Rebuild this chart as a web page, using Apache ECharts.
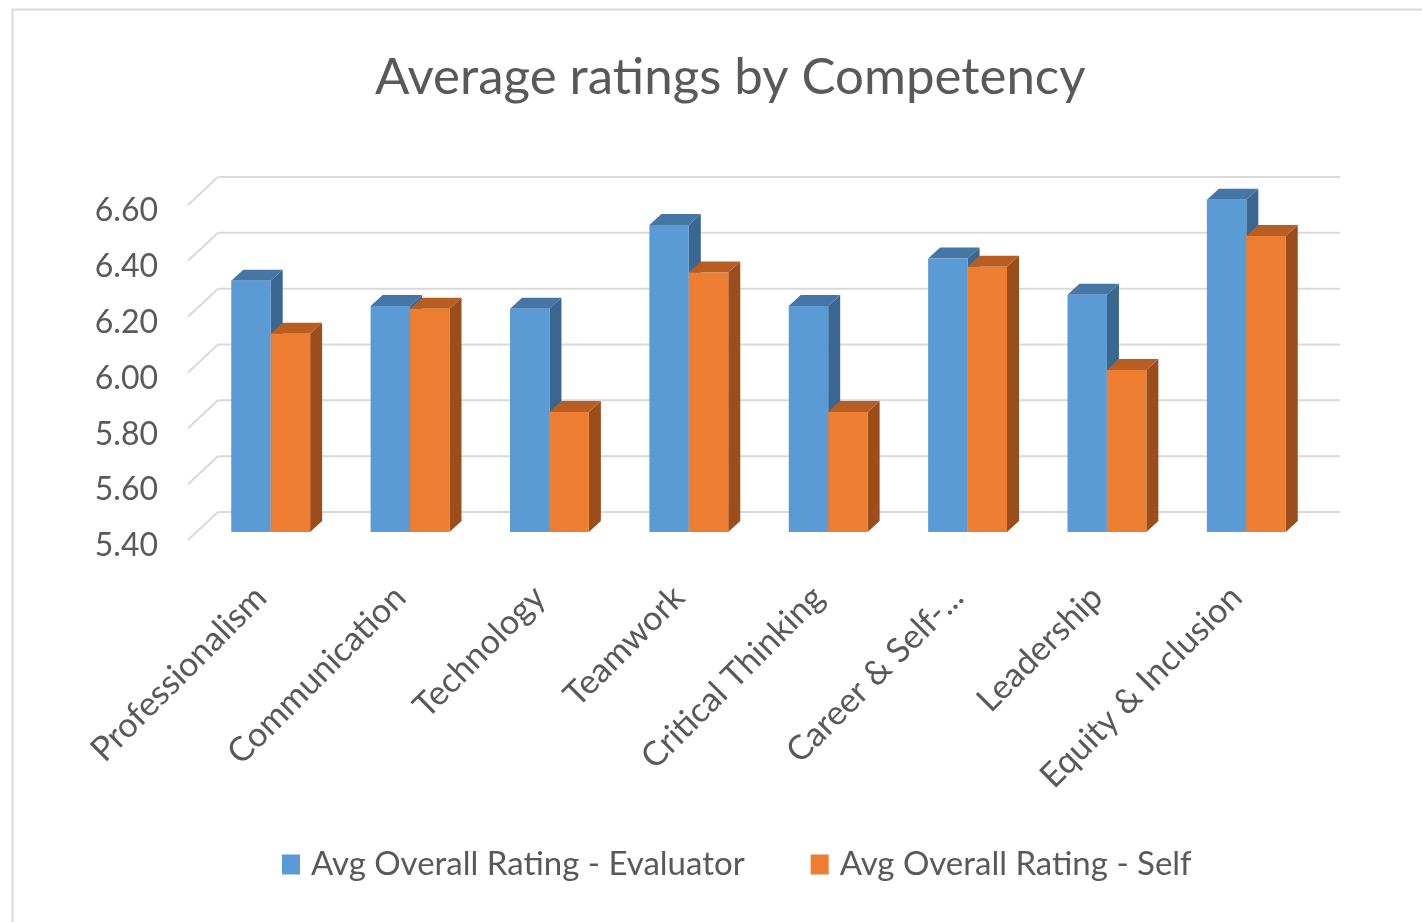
<!DOCTYPE html>
<html>
<head>
<meta charset="utf-8">
<script src="https://cdn.jsdelivr.net/npm/echarts@6/dist/echarts.min.js"></script>
<style>
html,body{margin:0;padding:0;background:#fff;}
#chart{width:1422px;height:922px;}
</style>
</head>
<body>
<div id="chart"></div>
<script>
const categories = ['Professionalism','Communication','Technology','Teamwork','Critical Thinking','Career & Self-...','Leadership','Equity & Inclusion'];
const evaluator = [6.30, 6.21, 6.20, 6.50, 6.21, 6.38, 6.25, 6.59];
const selfRating = [6.11, 6.20, 5.83, 6.33, 5.83, 6.35, 5.98, 6.46];
const yTicks = [5.4, 5.6, 5.8, 6.0, 6.2, 6.4, 6.6];
const seriesNames = ['Avg Overall Rating - Evaluator', 'Avg Overall Rating - Self'];

const FONT = 'Lato';
const blue = {front:'#5b9bd5', top:'#4676a6', side:'#3a6790'};
const orange = {front:'#ed7d31', top:'#b85e22', side:'#9b4e1c'};
const Y_MIN = 5.4;

function makeBar(sideIdx, colors) {
  return function (params, api) {
    const i = api.value(0), v = api.value(1);
    const top = api.coord([i, v]);
    const base = api.coord([i, Y_MIN]);
    const band = api.size([1, 0])[0];
    const w = band * 0.283;
    const x0 = sideIdx === 0 ? top[0] - w : top[0];
    const x1 = x0 + w;
    const yt = top[1], yb = base[1];
    const dx = 12, dy = -11;
    return {
      type: 'group',
      children: [
        {type:'polygon', shape:{points:[[x1,yt],[x1+dx,yt+dy],[x1+dx,yb+dy],[x1,yb]]}, style:{fill:colors.side}},
        {type:'polygon', shape:{points:[[x0,yt],[x1,yt],[x1+dx,yt+dy],[x0+dx,yt+dy]]}, style:{fill:colors.top}},
        {type:'rect', shape:{x:x0, y:yt, width:w, height:yb-yt}, style:{fill:colors.front}}
      ]
    };
  };
}

function gridRender(params, api) {
  const v = api.value(1);
  const p = api.coord([0, v]);
  const cs = params.coordSys;
  const y = p[1];
  const bl = cs.x + 17, br = cs.x + cs.width + 24, by = y - 20;
  return {
    type: 'group',
    children: [
      {type:'line', shape:{x1:bl, y1:by, x2:br, y2:by}, style:{stroke:'#d9d9d9', lineWidth:2}},
      {type:'line', shape:{x1:bl, y1:by, x2:bl-30, y2:by+28}, style:{stroke:'#d9d9d9', lineWidth:2}}
    ]
  };
}

const chart = echarts.init(document.getElementById('chart'));
chart.setOption({
  animation: false,
  backgroundColor: '#fff',
  graphic: [{
    type: 'rect', left: 10, top: 7, silent: true,
    shape: {width: 1440, height: 940},
    style: {fill: 'none', stroke: '#d9d9d9', lineWidth: 2}
  }],
  title: {
    text: 'Average ratings by Competency',
    left: 370, top: 47,
    textStyle: {fontFamily: FONT, fontSize: 51, fontWeight: 'normal', color: '#595959'}
  },
  legend: {
    bottom: 36, left: 277,
    itemWidth: 18, itemHeight: 20, itemGap: 66,
    icon: 'rect',
    textStyle: {fontFamily: FONT, fontSize: 33, color: '#595959', padding:[0,0,0,6]},
    data: seriesNames
  },
  grid: {left: 201, right: 106, top: 197, bottom: 390, containLabel: false},
  xAxis: {
    type: 'category', data: categories,
    axisLine: {show: false}, axisTick: {show: false}, splitLine: {show: false},
    axisLabel: {rotate: 45, margin: 50, interval: 0, fontFamily: FONT, fontSize: 34, color: '#595959',
      padding: [0, 14, 0, 0]}
  },
  yAxis: {
    type: 'value', min: 5.4, max: 6.6, interval: 0.2,
    axisLine: {show: false}, axisTick: {show: false}, splitLine: {show: false},
    axisLabel: {margin: 43, fontFamily: FONT, fontSize: 32, color: '#595959',
      verticalAlign: 'top', lineHeight: 28,
      formatter: v => v.toFixed(2)}
  },
  series: [
    {
      type: 'custom', name: 'grid', renderItem: gridRender, clip: false, silent: true, z: 1,
      data: yTicks.map(v => [0, v]), encode: {x: 0, y: 1}, legendHoverLink: false
    },
    {
      type: 'custom', name: seriesNames[0], renderItem: makeBar(0, blue), clip: false, z: 2,
      itemStyle: {color: blue.front},
      data: evaluator.map((v, i) => [i, v]), encode: {x: 0, y: 1}
    },
    {
      type: 'custom', name: seriesNames[1], renderItem: makeBar(1, orange), clip: false, z: 3,
      itemStyle: {color: orange.front},
      data: selfRating.map((v, i) => [i, v]), encode: {x: 0, y: 1}
    }
  ]
});
</script>
</body>
</html>
